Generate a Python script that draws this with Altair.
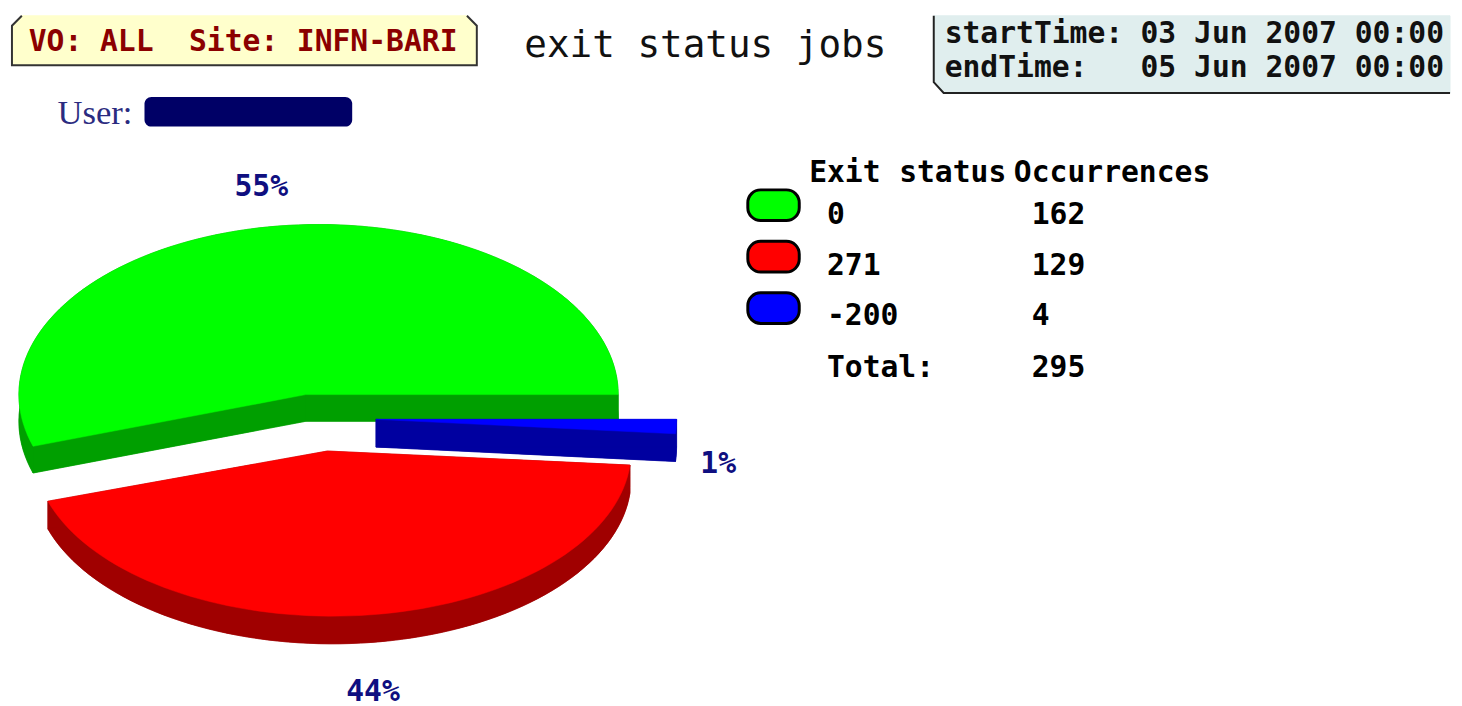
import math
import altair as alt
import pandas as pd

statuses = ["0", "271", "-200"]
occurrences = [162, 129, 4]
total = 295
percent_labels = ["55%", "44%", "1%"]
top_colors = ["#00ff00", "#ff0000", "#0000ff"]
side_colors = ["#009f00", "#a00000", "#0000a0"]

W, H = 1454, 692
xs = alt.Scale(domain=[8, 8 + W], nice=False, zero=False)
ys = alt.Scale(domain=[8 + H, 8], nice=False, zero=False)
X = alt.X("x:Q", scale=xs, axis=None)
Y = alt.Y("y:Q", scale=ys, axis=None)


def poly(points, color, stroke=None, width=1.0):
    df = pd.DataFrame({"x": [p[0] for p in points], "y": [p[1] for p in points],
                       "k": list(range(len(points)))})
    return alt.Chart(df).mark_line(fill=color, stroke=stroke or color, strokeWidth=width,
                                   interpolate="linear-closed").encode(x=X, y=Y, order="k:Q")


def open_line(points, color, width):
    df = pd.DataFrame({"x": [p[0] for p in points], "y": [p[1] for p in points],
                       "k": list(range(len(points)))})
    return alt.Chart(df).mark_line(stroke=color, strokeWidth=width).encode(x=X, y=Y, order="k:Q")


def arc(c, r, a0, a1):
    n = max(2, int(abs(a1 - a0) / 2) + 1)
    return [(c[0] + r[0] * math.cos(math.radians(a0 + (a1 - a0) * i / n)),
             c[1] - r[1] * math.sin(math.radians(a0 + (a1 - a0) * i / n))) for i in range(n + 1)]


def slice3d(apex, c, r, a0, a1, depth, top, side):
    a = arc(c, r, a0, a1)
    down = lambda ps: [(p[0], p[1] + depth) for p in ps]
    return [
        poly(down([apex] + a), side, width=0.5),
        poly(a + down(a)[::-1], side, width=0.5),
        poly([apex, a[0], (a[0][0], a[0][1] + depth), (apex[0], apex[1] + depth)], side, width=0.5),
        poly([apex, a[-1], (a[-1][0], a[-1][1] + depth), (apex[0], apex[1] + depth)], side, width=0.5),
        poly([apex] + a, top, width=0.5),
    ]


a_green = occurrences[0] / total * 360
a_red = a_green + occurrences[1] / total * 360
a_blue = occurrences[2] / total * 360

layers = []
# header boxes
layers.append(poly([(18, 5), (468, 5), (478, 15), (478, 55), (8, 55), (8, 15)], "#ffffcc", stroke="#ffffcc"))
layers.append(open_line([(18, 5), (8, 15), (8, 55), (478, 55), (478, 15), (468, 5)], "#333333", 2))
layers.append(poly([(940, 5), (1462, 5), (1462, 83), (950, 83), (940, 72)], "#e0eeee", stroke="#e0eeee"))
layers.append(open_line([(940, 5), (940, 72), (950, 83), (1462, 83)], "#222222", 2))

# pie
layers += slice3d((305, 388), (318, 388), (303, 172), 0, a_green, 27, top_colors[0], side_colors[0])
layers += slice3d((327, 445), (332, 445), (302, 167), a_green, a_red, 28, top_colors[1], side_colors[1])
layers += slice3d((376, 413), (376, 413), (304, 172), -a_blue, 0, 28, top_colors[2], side_colors[2])

# redaction and legend keys
boxes = pd.DataFrame({"x": [142, 752, 752, 752], "x2": [352, 804, 804, 804],
                      "y": [87, 181, 233, 285], "y2": [117, 212, 264, 316],
                      "c": ["#000066"] + top_colors})
layers.append(alt.Chart(boxes.iloc[[0]]).mark_rect(cornerRadius=7, color="#000066").encode(
    x=X, x2="x2:Q", y=Y, y2="y2:Q"))
layers.append(alt.Chart(boxes.iloc[1:]).mark_rect(cornerRadius=13, stroke="black", strokeWidth=3).encode(
    x=X, x2="x2:Q", y=Y, y2="y2:Q", fill=alt.Fill("c:N", scale=None)))


def text(rows, color, size, weight="bold", font="DejaVu Sans Mono"):
    df = pd.DataFrame(rows, columns=["t", "x", "y"])
    return alt.Chart(df).mark_text(align="left", baseline="alphabetic", font=font, fontSize=size,
                                   fontWeight=weight, color=color).encode(x=X, y=Y, text="t:N")


layers.append(text([("VO:", 25, 41), ("ALL", 97, 41), ("Site:", 187, 41), ("INFN-BARI", 296, 41)], "#8b0000", 30))
layers.append(text([("exit status jobs", 526, 47)], "#111111", 38, weight="normal"))
layers.append(text([("startTime:", 951, 32), ("03 Jun 2007 00:00", 1149, 32),
                    ("endTime:", 951, 67), ("05 Jun 2007 00:00", 1149, 67)], "#111111", 30))
layers.append(text([("User:", 54, 114)], "#2b2b80", 35, weight="normal", font="Liberation Serif"))
layers.append(text([(percent_labels[0], 233, 187), (percent_labels[1], 346, 698), (percent_labels[2], 704, 467)],
                   "#0f0f80", 30))
legend_rows = [("Exit", 814, 173), ("status", 905, 173), ("Occurrences", 1021, 173)]
for lab, val, yy in zip(statuses, occurrences, [215, 267, 318]):
    legend_rows += [(lab, 832, yy), (str(val), 1039, yy)]
legend_rows += [("Total:", 832, 370), (str(total), 1039, 370)]
layers.append(text(legend_rows, "#000000", 30))

chart = alt.layer(*layers).properties(width=W, height=H, padding=0, background="white").configure_view(stroke=None)
chart.save("out.html", embed_options={"renderer": "svg", "actions": False})
